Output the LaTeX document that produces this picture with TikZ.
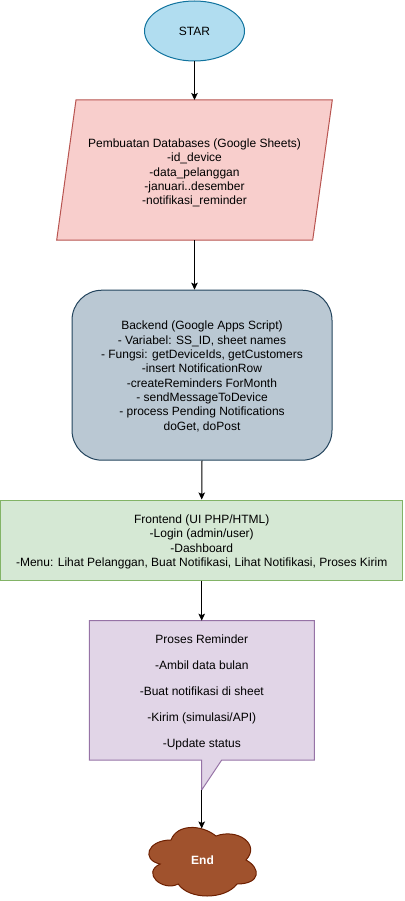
\documentclass[tikz,border=0pt]{standalone}
\usepackage{fontspec}
\setmainfont{Liberation Sans}
\usetikzlibrary{arrows.meta,shapes.geometric}
\definecolor{starF}{HTML}{B1DDF0}
\definecolor{starS}{HTML}{10739E}
\definecolor{dbF}{HTML}{F8CECC}
\definecolor{dbS}{HTML}{B85450}
\definecolor{beF}{HTML}{BAC8D3}
\definecolor{beS}{HTML}{23445D}
\definecolor{feF}{HTML}{D5E8D4}
\definecolor{feS}{HTML}{82B366}
\definecolor{prF}{HTML}{E1D5E7}
\definecolor{prS}{HTML}{9673A6}
\definecolor{enF}{HTML}{A0522D}
\definecolor{enS}{HTML}{6D1F00}
\begin{document}
\begin{tikzpicture}[x=1pt,y=-1pt,
  txt/.style={font=\fontsize{12}{14.3}\selectfont, align=center, text=black, inner sep=0pt},
  shp/.style={line width=1pt},
  arr/.style={draw=black, line width=1pt, -{Stealth[length=7pt,width=6.5pt,inset=1.5pt]}}]
\useasboundingbox (0,0) rectangle (404,901);
% START
\node[shp, ellipse, draw=starS, fill=starF, minimum width=100pt, minimum height=60pt, txt] (star) at (194.5,31) {STAR};
% Database parallelogram
\draw[shp, draw=dbS, fill=dbF] (76,100) -- (332.3,100) -- (312.7,240) -- (56.7,240) -- cycle;
\coordinate (dbtop) at (194.5,100);
\coordinate (dbbot) at (194.5,240);
\node[txt] (db) at (194.5,173) {Pembuatan Databases (Google Sheets)\\-id\_device\\-data\_pelanggan\\-januari..desember\\-notifikasi\_reminder};
% Backend
\node[shp, rectangle, rounded corners=30pt, draw=beS, fill=beF, minimum width=260pt, minimum height=170pt] (back) at (202,375.2) {};
\node[txt] (backtxt) at (202,376.4) {Backend (Google Apps Script)\\- Variabel: SS\_ID, sheet names\\- Fungsi: getDeviceIds, getCustomers\\-insert NotificationRow\\-createReminders ForMonth\\- sendMessageToDevice\\- process Pending Notifications\\doGet, doPost};
% Frontend
\node[shp, rectangle, draw=feS, fill=feF, minimum width=402pt, minimum height=80pt] (front) at (201.7,540) {};
\node[txt] (fronttxt) at (201.7,541.8) {Frontend (UI PHP/HTML)\\-Login (admin/user)\\-Dashboard\\-Menu: Lihat Pelanggan, Buat Notifikasi, Lihat Notifikasi, Proses Kirim};
% Callout
\draw[shp, draw=prS, fill=prF] (89.3,620.7) -- (314.3,620.7) -- (314.3,760) -- (221.7,760) -- (201.7,790) -- (201.7,760) -- (89.3,760) -- cycle;
\coordinate (remtop) at (201.7,620.7);
\node[txt, font=\fontsize{12}{26}\selectfont] (rem) at (201.8,692.3) {Proses Reminder\\-Ambil data bulan\\-Buat notifikasi di sheet\\-Kirim (simulasi/API)\\-Update status};
\coordinate (tip) at (201.7,790);
% Cloud
\begin{scope}[shift={(141,820)}]
\draw[shp, draw=enS, fill=enF] (30,20) .. controls (6,20) and (0,40) .. (19.2,44)
  .. controls (0,52.8) and (21.6,72) .. (37.2,64)
  .. controls (48,80) and (84,80) .. (96,64)
  .. controls (120,64) and (120,48) .. (105,40)
  .. controls (120,24) and (96,8) .. (75,16)
  .. controls (60,4) and (36,4) .. (30,20) -- cycle;
\end{scope}
\node[txt, text=white, font=\fontsize{12}{14.3}\selectfont\bfseries] (endn) at (202.5,860.5) {End};
\coordinate (endtop) at (201.7,828.5);
% Connectors
\draw[arr] (star.south) -- (dbtop);
\draw[arr] (dbbot) -- (dbbot |- back.north);
\draw[arr] (back.south) -- (front.north);
\draw[arr] (front.south) -- (remtop);
\draw[arr] (tip) -- (endtop);
\end{tikzpicture}
\end{document}
